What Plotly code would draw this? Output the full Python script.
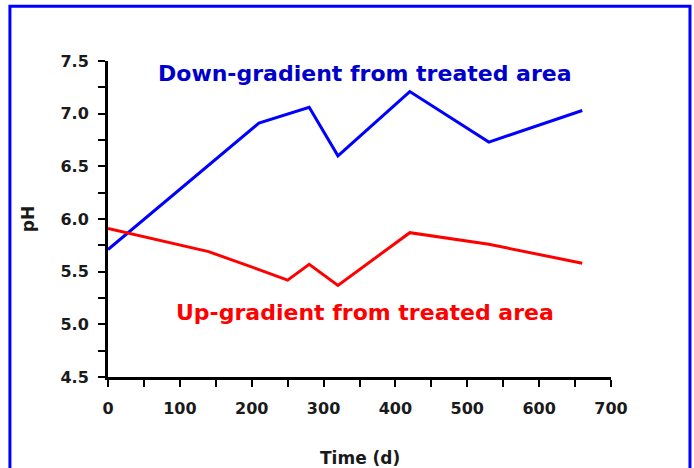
import plotly.graph_objects as go

# Data
down_time = [0, 210, 280, 320, 420, 530, 660]
down_ph = [5.71, 6.91, 7.06, 6.60, 7.21, 6.73, 7.03]

up_time = [0, 140, 210, 250, 280, 320, 420, 530, 660]
up_ph = [5.91, 5.69, 5.52, 5.42, 5.57, 5.37, 5.87, 5.76, 5.58]

x_ticks = [0, 100, 200, 300, 400, 500, 600, 700]
y_ticks = [4.5, 5.0, 5.5, 6.0, 6.5, 7.0, 7.5]

FONT = "DejaVu Sans, Arial, sans-serif"
TXT = "#1a1a1a"

fig = go.Figure()
fig.add_trace(go.Scatter(x=down_time, y=down_ph, mode="lines",
                         line=dict(color="#0000FF", width=3), showlegend=False))
fig.add_trace(go.Scatter(x=up_time, y=up_ph, mode="lines",
                         line=dict(color="#FF0000", width=3), showlegend=False))

axis_common = dict(showgrid=False, zeroline=False, showline=True, linecolor="black",
                   linewidth=3, ticks="outside", tickcolor="black", tickwidth=2, ticklen=7,
                   tickfont=dict(family=FONT, size=16, color=TXT, weight="bold"))

fig.update_xaxes(range=[0, 700], tickvals=x_ticks, ticktext=[str(v) for v in x_ticks],
                 minor=dict(dtick=50, ticks="outside", ticklen=7, tickwidth=2, tickcolor="black"),
                 ticklabelstandoff=8, automargin=False,
                 **axis_common)
fig.update_yaxes(range=[4.5, 7.5], tickvals=y_ticks, ticktext=[f"{v:.1f}" for v in y_ticks],
                 minor=dict(dtick=0.25, ticks="outside", ticklen=7, tickwidth=2, tickcolor="black"),
                 ticklabelstandoff=6,
                 title=dict(text="pH", font=dict(family=FONT, size=17, color=TXT, weight="bold"),
                            standoff=22),
                 **axis_common)

# x-axis title
fig.add_annotation(x=0.5, y=-0.256, xref="paper", yref="paper", text="Time (d)",
                   showarrow=False, yanchor="middle",
                   font=dict(family=FONT, size=17, color=TXT, weight="bold"))

fig.add_annotation(x=358, y=7.38, xref="x", yref="y", text="Down-gradient from treated area",
                   showarrow=False, font=dict(family=FONT, size=22, color="#0000CC", weight="bold"))
fig.add_annotation(x=358, y=5.11, xref="x", yref="y", text="Up-gradient from treated area",
                   showarrow=False, font=dict(family=FONT, size=22, color="#FF0000", weight="bold"))

# Blue frame around the whole figure (bottom edge runs off the page)
fig.add_shape(type="rect", xref="paper", yref="paper", x0=-0.195, x1=1.157, y0=-0.5, y1=1.173,
              line=dict(color="#0000FF", width=3), layer="below")

fig.update_layout(width=694, height=468, margin=dict(l=108, r=83, t=61, b=91),
                  plot_bgcolor="white", paper_bgcolor="white")

fig.write_html("out.html", config={"displayModeBar": False},
               post_script="document.body.style.margin='0px';document.body.style.overflow='hidden';")
